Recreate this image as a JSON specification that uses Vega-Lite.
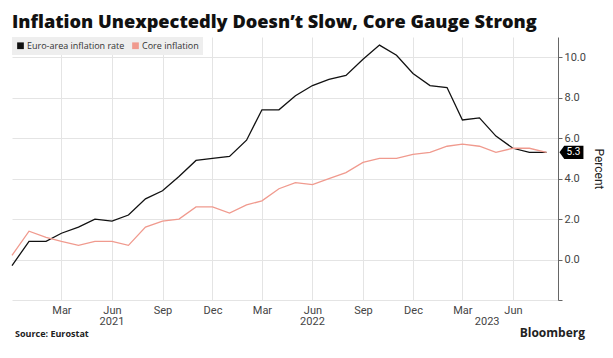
{
  "$schema": "https://vega.github.io/schema/vega-lite/v6.json",
  "width": 546,
  "height": 263,
  "autosize": {"type": "none"},
  "padding": {"left": 12, "top": 37, "right": 55, "bottom": 58},
  "background": "white",
  "title": {
    "text": "Inflation Unexpectedly Doesn’t Slow, Core Gauge Strong",
    "anchor": "start",
    "frame": "group",
    "font": "Open Sans",
    "fontSize": 18.2,
    "fontWeight": 800,
    "color": "#111111",
    "offset": 5
  },
  "config": {
    "view": {"stroke": null},
    "font": "Roboto",
    "legend": {
      "orient": "top-left",
      "offset": 0,
      "direction": "horizontal",
      "fillColor": "#eeeeee",
      "padding": 4,
      "labelFont": "Open Sans",
      "labelFontSize": 9,
      "labelColor": "#333333",
      "symbolType": "square",
      "symbolSize": 45,
      "symbolStrokeWidth": 0,
      "columnPadding": 6,
      "labelOffset": 2,
      "title": null
    }
  },
  "datasets": {
    "cpi": [
      {"date": "2020-12-01T00:00:00", "Euro-area inflation rate": -0.3, "Core inflation": 0.2},
      {"date": "2021-01-01T00:00:00", "Euro-area inflation rate": 0.9, "Core inflation": 1.4},
      {"date": "2021-02-01T00:00:00", "Euro-area inflation rate": 0.9, "Core inflation": 1.1},
      {"date": "2021-03-01T00:00:00", "Euro-area inflation rate": 1.3, "Core inflation": 0.9},
      {"date": "2021-04-01T00:00:00", "Euro-area inflation rate": 1.6, "Core inflation": 0.7},
      {"date": "2021-05-01T00:00:00", "Euro-area inflation rate": 2.0, "Core inflation": 0.9},
      {"date": "2021-06-01T00:00:00", "Euro-area inflation rate": 1.9, "Core inflation": 0.9},
      {"date": "2021-07-01T00:00:00", "Euro-area inflation rate": 2.2, "Core inflation": 0.7},
      {"date": "2021-08-01T00:00:00", "Euro-area inflation rate": 3.0, "Core inflation": 1.6},
      {"date": "2021-09-01T00:00:00", "Euro-area inflation rate": 3.4, "Core inflation": 1.9},
      {"date": "2021-10-01T00:00:00", "Euro-area inflation rate": 4.1, "Core inflation": 2.0},
      {"date": "2021-11-01T00:00:00", "Euro-area inflation rate": 4.9, "Core inflation": 2.6},
      {"date": "2021-12-01T00:00:00", "Euro-area inflation rate": 5.0, "Core inflation": 2.6},
      {"date": "2022-01-01T00:00:00", "Euro-area inflation rate": 5.1, "Core inflation": 2.3},
      {"date": "2022-02-01T00:00:00", "Euro-area inflation rate": 5.9, "Core inflation": 2.7},
      {"date": "2022-03-01T00:00:00", "Euro-area inflation rate": 7.4, "Core inflation": 2.9},
      {"date": "2022-04-01T00:00:00", "Euro-area inflation rate": 7.4, "Core inflation": 3.5},
      {"date": "2022-05-01T00:00:00", "Euro-area inflation rate": 8.1, "Core inflation": 3.8},
      {"date": "2022-06-01T00:00:00", "Euro-area inflation rate": 8.6, "Core inflation": 3.7},
      {"date": "2022-07-01T00:00:00", "Euro-area inflation rate": 8.9, "Core inflation": 4.0},
      {"date": "2022-08-01T00:00:00", "Euro-area inflation rate": 9.1, "Core inflation": 4.3},
      {"date": "2022-09-01T00:00:00", "Euro-area inflation rate": 9.9, "Core inflation": 4.8},
      {"date": "2022-10-01T00:00:00", "Euro-area inflation rate": 10.6, "Core inflation": 5.0},
      {"date": "2022-11-01T00:00:00", "Euro-area inflation rate": 10.1, "Core inflation": 5.0},
      {"date": "2022-12-01T00:00:00", "Euro-area inflation rate": 9.2, "Core inflation": 5.2},
      {"date": "2023-01-01T00:00:00", "Euro-area inflation rate": 8.6, "Core inflation": 5.3},
      {"date": "2023-02-01T00:00:00", "Euro-area inflation rate": 8.5, "Core inflation": 5.6},
      {"date": "2023-03-01T00:00:00", "Euro-area inflation rate": 6.9, "Core inflation": 5.7},
      {"date": "2023-04-01T00:00:00", "Euro-area inflation rate": 7.0, "Core inflation": 5.6},
      {"date": "2023-05-01T00:00:00", "Euro-area inflation rate": 6.1, "Core inflation": 5.3},
      {"date": "2023-06-01T00:00:00", "Euro-area inflation rate": 5.5, "Core inflation": 5.5},
      {"date": "2023-07-01T00:00:00", "Euro-area inflation rate": 5.3, "Core inflation": 5.5},
      {"date": "2023-08-01T00:00:00", "Euro-area inflation rate": 5.3, "Core inflation": 5.3}
    ],
    "years": [
      {"date": "2021-06-01T00:00:00", "year": "2021"},
      {"date": "2022-06-01T00:00:00", "year": "2022"},
      {"date": "2023-04-15T00:00:00", "year": "2023"}
    ],
    "last": [
      {"date": "2023-08-01T00:00:00", "value": 5.3, "label": "5.3"}
    ]
  },
  "layer": [
    {
      "data": {"name": "cpi"},
      "transform": [
        {"fold": ["Euro-area inflation rate", "Core inflation"], "as": ["series", "value"]}
      ],
      "mark": {"type": "line", "strokeWidth": 1.3, "interpolate": "linear"},
      "encoding": {
        "x": {
          "field": "date",
          "type": "temporal",
          "scale": {"domain": [{"year": 2020, "month": 12, "date": 1}, {"year": 2023, "month": 8, "date": 22}]},
          "axis": {
            "orient": "bottom",
            "values": [
              {"year": 2021, "month": 3, "date": 1}, {"year": 2021, "month": 6, "date": 1},
              {"year": 2021, "month": 9, "date": 1}, {"year": 2021, "month": 12, "date": 1},
              {"year": 2022, "month": 3, "date": 1}, {"year": 2022, "month": 6, "date": 1},
              {"year": 2022, "month": 9, "date": 1}, {"year": 2022, "month": 12, "date": 1},
              {"year": 2023, "month": 3, "date": 1}, {"year": 2023, "month": 6, "date": 1}
            ],
            "format": "%b",
            "grid": true,
            "gridColor": "#e4e4e4",
            "gridWidth": 1,
            "domain": false,
            "ticks": false,
            "labelFont": "Roboto",
            "labelFontSize": 11,
            "labelColor": "#444444",
            "labelPadding": 4,
            "labelFlush": false,
            "title": null
          }
        },
        "y": {
          "field": "value",
          "type": "quantitative",
          "scale": {"domain": [-2, 11], "nice": false, "zero": false},
          "axis": {
            "orient": "right",
            "values": [-2, 0, 2, 4, 6, 8, 10],
            "labelExpr": "datum.value < 0 ? '' : format(datum.value, '.1f')",
            "grid": true,
            "gridColor": "#e4e4e4",
            "domain": true,
            "domainColor": "#666666",
            "ticks": true,
            "tickColor": "#666666",
            "tickSize": 4,
            "labelFont": "Roboto",
            "labelFontSize": 11,
            "labelColor": "#444444",
            "labelPadding": 2,
            "title": "Percent",
            "titleFont": "Roboto",
            "titleFontSize": 12,
            "titleFontWeight": "normal",
            "titleColor": "#222222",
            "titlePadding": 6
          }
        },
        "color": {
          "field": "series",
          "type": "nominal",
          "scale": {"domain": ["Euro-area inflation rate", "Core inflation"], "range": ["#111111", "#f09a8e"]},
          "legend": {
            "symbolType": "square",
            "encode": {"symbols": {"update": {"fill": {"scale": "color", "field": "value"}, "stroke": {"value": "transparent"}}}}
          }
        }
      }
    },
    {
      "data": {"name": "years"},
      "mark": {"type": "text", "font": "Roboto", "fontSize": 11, "color": "#444444", "baseline": "top", "dy": 16},
      "encoding": {
        "x": {"field": "date", "type": "temporal"},
        "y": {"datum": -2},
        "text": {"field": "year"}
      }
    },
    {
      "data": {"name": "last"},
      "mark": {"type": "point", "shape": "M -1 0 L -0.6 -0.55 L 1 -0.55 L 1 0.55 L -0.6 0.55 Z", "size": 576, "filled": true, "fill": "#000000", "opacity": 1, "xOffset": 25},
      "encoding": {
        "x": {"field": "date", "type": "temporal"},
        "y": {"field": "value", "type": "quantitative"}
      }
    },
    {
      "data": {"name": "last"},
      "mark": {"type": "text", "font": "Roboto", "fontSize": 10, "color": "#ffffff", "xOffset": 27, "align": "center", "baseline": "middle"},
      "encoding": {
        "x": {"field": "date", "type": "temporal"},
        "y": {"field": "value", "type": "quantitative"},
        "text": {"field": "label"}
      }
    },
    {
      "data": {"values": [{"note": "Source: Eurostat"}]},
      "mark": {"type": "text", "font": "Open Sans", "fontSize": 9, "fontWeight": "bold", "color": "#222222", "align": "left", "baseline": "middle", "dy": 34, "dx": 3},
      "encoding": {
        "x": {"datum": {"year": 2020, "month": 12, "date": 1}, "type": "temporal"},
        "y": {"datum": -2},
        "text": {"field": "note"}
      }
    },
    {
      "data": {"values": [{"note": "Bloomberg"}]},
      "mark": {"type": "text", "font": "Open Sans", "fontSize": 12, "fontWeight": "bold", "color": "#222222", "align": "right", "baseline": "middle", "dy": 33, "dx": 27},
      "encoding": {
        "x": {"datum": {"year": 2023, "month": 8, "date": 22}, "type": "temporal"},
        "y": {"datum": -2},
        "text": {"field": "note"}
      }
    }
  ]
}
